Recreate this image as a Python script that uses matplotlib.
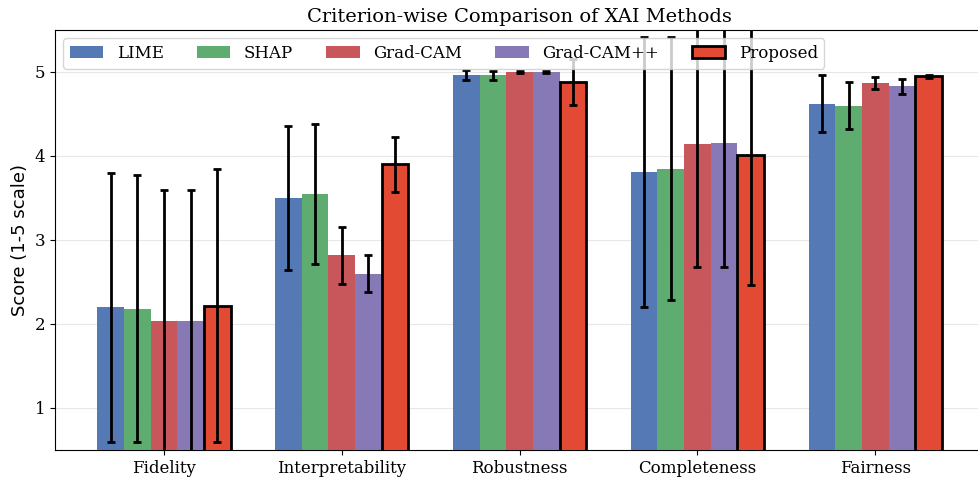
import numpy as np
import matplotlib.pyplot as plt

criteria = ['Fidelity', 'Interpretability', 'Robustness', 'Completeness', 'Fairness']
methods = ['LIME', 'SHAP', 'Grad-CAM', 'Grad-CAM++', 'Proposed']

# mean scores per method, one value per criterion
lime = [2.20, 3.50, 4.96, 3.81, 4.62]
shap = [2.18, 3.55, 4.96, 3.85, 4.60]
gradcam = [2.03, 2.82, 5.00, 4.14, 4.87]
gradcampp = [2.04, 2.60, 5.00, 4.15, 4.83]
proposed = [2.22, 3.90, 4.88, 4.01, 4.95]

# standard deviations
lime_std = [1.60, 0.86, 0.06, 1.61, 0.34]
shap_std = [1.59, 0.83, 0.05, 1.57, 0.28]
gradcam_std = [1.56, 0.34, 0.01, 1.46, 0.07]
gradcampp_std = [1.56, 0.22, 0.01, 1.47, 0.09]
proposed_std = [1.63, 0.33, 0.27, 1.55, 0.02]

means = [lime, shap, gradcam, gradcampp, proposed]
stds = [lime_std, shap_std, gradcam_std, gradcampp_std, proposed_std]
colors = ['#4C72B0', '#55A868', '#C44E52', '#8172B2', '#E24A33']

plt.rcParams['font.family'] = 'DejaVu Serif'

fig = plt.figure(figsize=(9.79, 4.82), dpi=100)
ax = fig.add_axes([0.0562, 0.0664, 0.949, 0.8714])

x = np.arange(len(criteria))
width = 0.15

for i, m in enumerate(methods):
    pos = x + (i - 2) * width
    if m == 'Proposed':
        ax.bar(pos, means[i], width, yerr=stds[i], color=colors[i], label=m,
               edgecolor='black', linewidth=2, capsize=3,
               error_kw=dict(elinewidth=2, capthick=2, ecolor='black'), zorder=3)
    else:
        ax.bar(pos, means[i], width, yerr=stds[i], color=colors[i], label=m,
               alpha=0.95, capsize=3,
               error_kw=dict(elinewidth=2, capthick=2, ecolor='black'), zorder=3)

ax.set_xticks(x)
ax.set_xticklabels(criteria, fontsize=12)
ax.tick_params(axis='y', labelsize=12)
ax.set_ylim(0.5, 5.5)
ax.set_yticks([1, 2, 3, 4, 5])
ax.set_ylabel('Score (1-5 scale)', fontsize=13, family='DejaVu Sans')
ax.set_title('Criterion-wise Comparison of XAI Methods', fontsize=14)
ax.grid(axis='y', alpha=0.3, zorder=0)
ax.set_axisbelow(True)
ax.legend(ncol=5, loc='upper left', fontsize=12, framealpha=0.8)

fig.savefig('out.png', dpi=100)
